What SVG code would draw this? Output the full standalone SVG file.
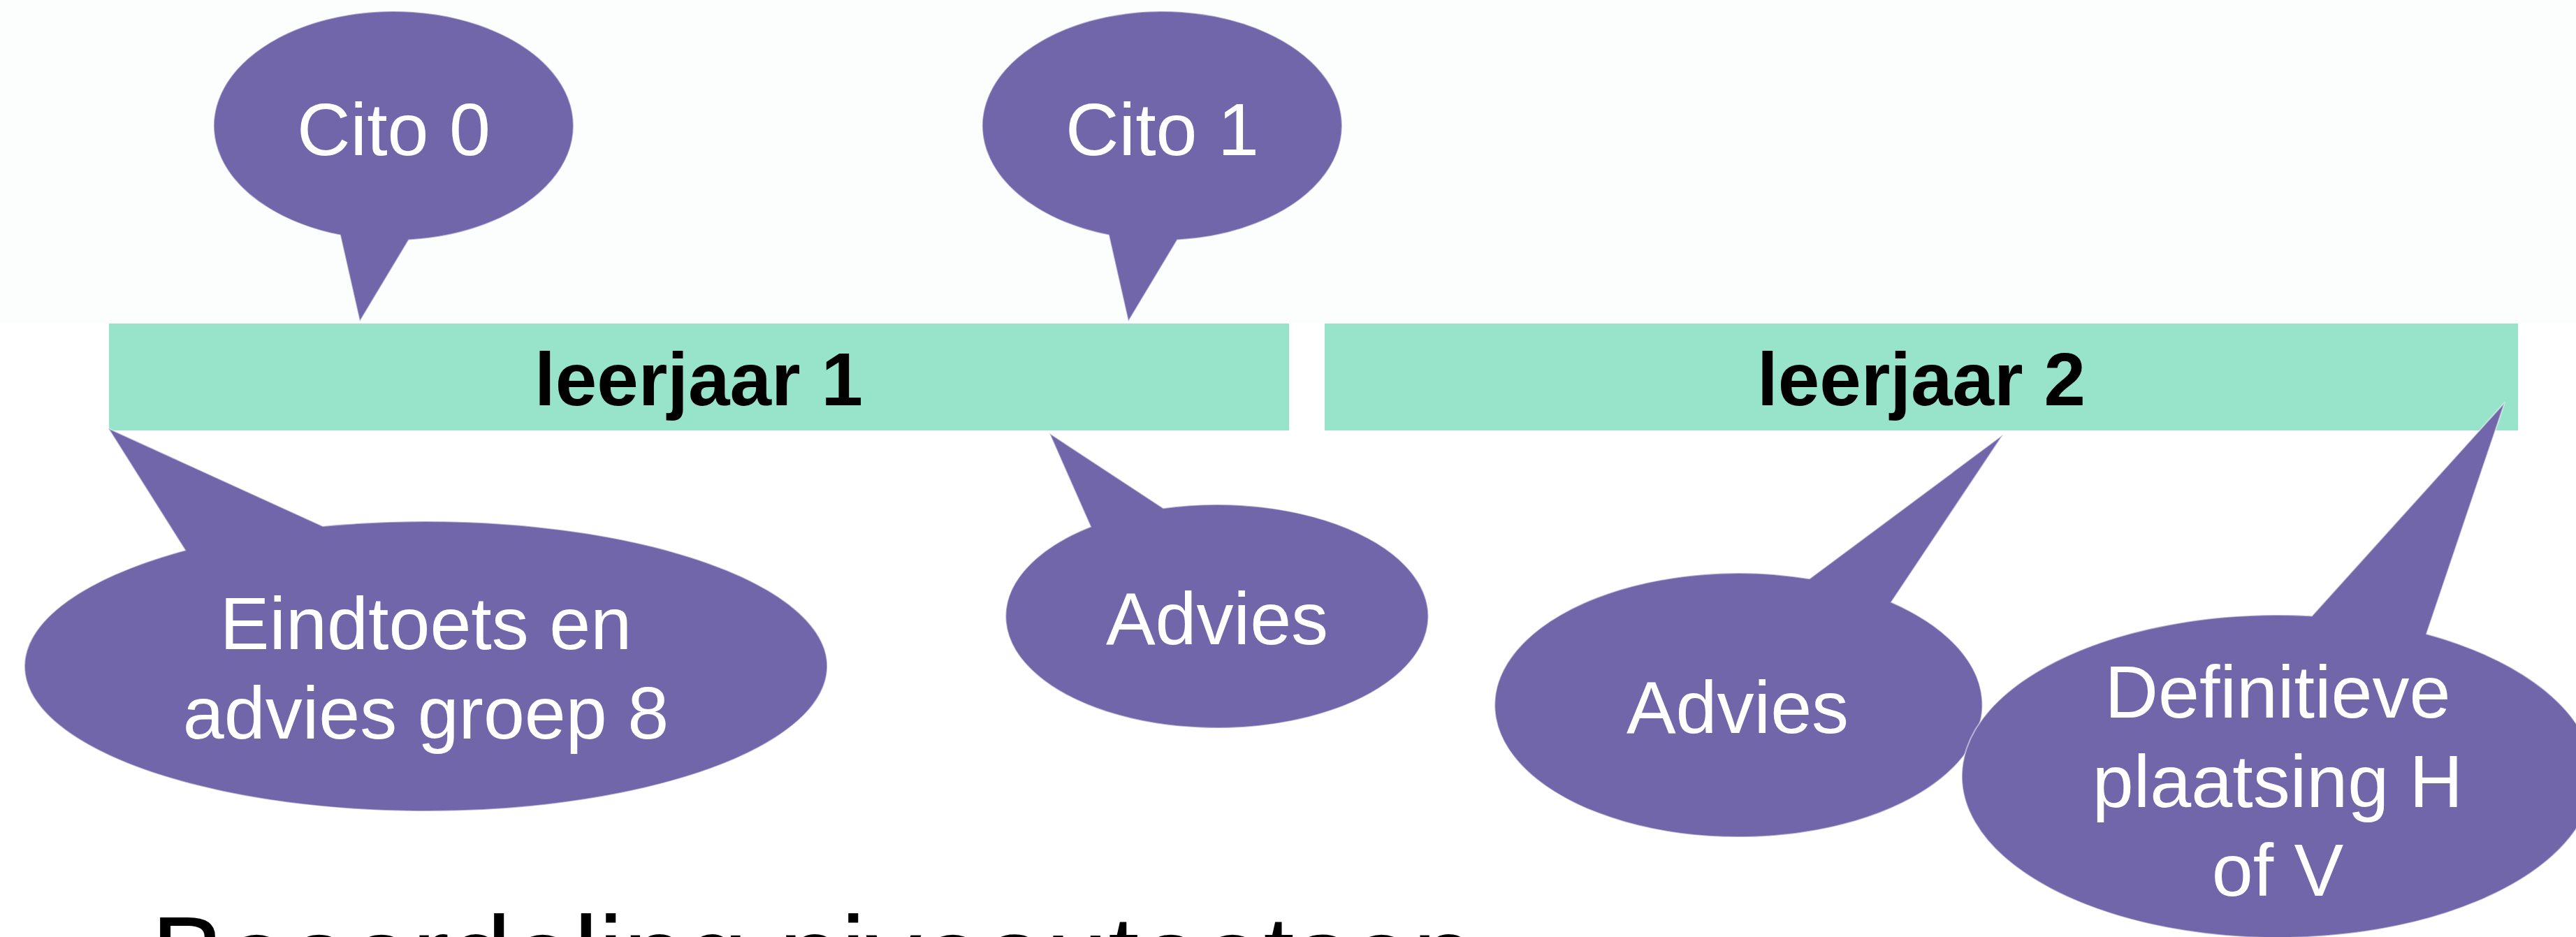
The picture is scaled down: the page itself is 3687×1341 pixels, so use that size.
<svg xmlns="http://www.w3.org/2000/svg" width="3687" height="1341" viewBox="0 0 3687 1341">
  <style>
    .bubble { fill: #7066a9; stroke: #ffffff; stroke-opacity: 0.5; stroke-width: 2; }
    .btext { fill: #ffffff; font-family: "Liberation Sans", Arial, sans-serif; font-size: 106px; text-anchor: middle; }
    .bar { fill: #97e4cb; }
    .bartext { fill: #000000; font-family: "Liberation Sans", Arial, sans-serif; font-size: 107px; font-weight: bold; text-anchor: middle; }
    .title { fill: #000000; font-family: "Liberation Sans", Arial, sans-serif; font-size: 160px; }
  </style>
  <rect x="0" y="0" width="3687" height="1341" fill="#ffffff"/>
  <rect x="0" y="0" width="3687" height="463" fill="#fcfdfd"/>

  <g id="bar-leerjaar1">
    <rect class="bar" x="156" y="463" width="1689" height="153"/>
    <text class="bartext" x="1000" y="580">leerjaar 1</text>
  </g>
  <g id="bar-leerjaar2">
    <rect class="bar" x="1896" y="463" width="1708" height="153"/>
    <text class="bartext" x="2750" y="580">leerjaar 2</text>
  </g>

  <g id="connectors"></g>

  <g id="cito0">
    <path class="bubble" d="M 487 336.6 A 257.5 164 0 1 1 585 343.4 L 515 460 Z"/>
    <text class="btext" x="563.5" y="222">Cito 0</text>
  </g>
  <g id="cito1">
    <path class="bubble" d="M 1587 336.6 A 257.5 164 0 1 1 1685 343.4 L 1615 460 Z"/>
    <text class="btext" x="1663.5" y="222">Cito 1</text>
  </g>
  <g id="eindtoets">
    <path class="bubble" d="M 265 787.5 A 574.5 207.5 0 1 0 462 753 L 155 613 Z"/>
    <text class="btext" x="609.5" y="929">Eindtoets en</text>
    <text class="btext" x="609.5" y="1057">advies groep 8</text>
  </g>
  <g id="advies1">
    <path class="bubble" d="M 1561 753.8 A 302.5 160 0 1 0 1665 727.3 L 1502 620 Z"/>
    <text class="btext" x="1742" y="922">Advies</text>
  </g>
  <g id="advies2">
    <path class="bubble" d="M 2590 828.3 A 349 189 0 1 0 2707 861.8 L 2867 622 Z"/>
    <text class="btext" x="2487" y="1049">Advies</text>
  </g>
  <g id="definitieve">
    <path class="bubble" d="M 3309 881.4 A 452 231 0 1 0 3473 907.3 L 3585 576 Z"/>
    <text class="btext" x="3260" y="1027">Definitieve</text>
    <text class="btext" x="3260" y="1155">plaatsing H</text>
    <text class="btext" x="3260" y="1282">of V</text>
  </g>

  <g id="title">
    <text class="title" x="216" y="1423">Beoordeling niveautoetsen</text>
  </g>
</svg>
